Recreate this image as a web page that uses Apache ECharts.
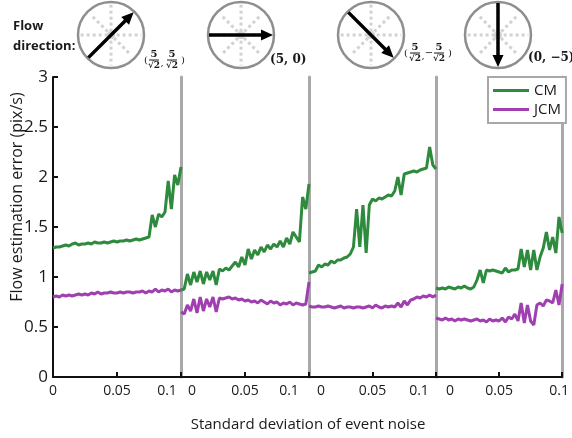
<!DOCTYPE html>
<html lang="en">
<head>
<meta charset="UTF-8">
<title>Flow estimation error</title>
<script src="https://cdn.jsdelivr.net/npm/echarts@6/dist/echarts.min.js"></script>
<style>
  html, body { margin: 0; padding: 0; background: #fff; }
  #main { width: 572px; height: 438px; }
</style>
</head>
<body>
<div id="main"></div>
<script>
// noise levels (x), same for every panel
var noise = [0, 0.0025, 0.005, 0.0075, 0.01, 0.0125, 0.015, 0.0175, 0.02, 0.0225,
  0.025, 0.0275, 0.03, 0.0325, 0.035, 0.0375, 0.04, 0.0425, 0.045, 0.0475,
  0.05, 0.0525, 0.055, 0.0575, 0.06, 0.0625, 0.065, 0.0675, 0.07, 0.0725,
  0.075, 0.0775, 0.08, 0.0825, 0.085, 0.0875, 0.09, 0.0925, 0.095, 0.0975, 0.1];

// flow vectors of the four panels
var flowDirs = [[5 / Math.SQRT2, 5 / Math.SQRT2], [5, 0], [5 / Math.SQRT2, -5 / Math.SQRT2], [0, -5]];

// CM error per panel
var cm1 = [1.29,1.30,1.30,1.31,1.32,1.31,1.33,1.34,1.32,1.33,1.33,1.34,1.33,1.35,1.34,1.34,1.35,1.34,1.35,1.36,
  1.35,1.36,1.36,1.37,1.36,1.37,1.38,1.37,1.38,1.39,1.40,1.62,1.50,1.63,1.60,1.65,1.96,1.68,2.02,1.92,2.10];
var cm2 = [0.87,0.88,1.03,0.92,1.05,0.95,1.06,0.93,1.05,0.97,1.06,0.92,1.08,1.06,1.09,1.07,1.11,1.15,1.10,1.20,
  1.12,1.28,1.18,1.27,1.22,1.30,1.25,1.32,1.28,1.33,1.30,1.36,1.30,1.39,1.33,1.45,1.40,1.35,1.80,1.68,1.93];
var cm3 = [1.04,1.05,1.06,1.12,1.10,1.13,1.12,1.16,1.14,1.17,1.17,1.19,1.20,1.23,1.30,1.68,1.30,1.72,1.24,1.72,
  1.78,1.76,1.79,1.78,1.80,1.82,1.81,1.86,2.00,1.82,2.03,2.04,2.05,2.06,2.05,2.07,2.08,2.09,2.30,2.12,2.08];
var cm4 = [0.89,0.88,0.89,0.88,0.90,0.89,0.88,0.90,0.89,0.91,0.89,0.88,0.90,0.97,1.07,0.94,1.07,1.06,1.07,1.06,
  1.05,1.04,1.09,1.05,1.07,1.07,1.08,1.28,1.10,1.27,1.07,1.27,1.07,1.20,1.29,1.45,1.27,1.40,1.24,1.60,1.44];

// JCM error per panel
var jcm1 = [0.80,0.81,0.80,0.82,0.81,0.82,0.81,0.82,0.83,0.82,0.83,0.82,0.84,0.83,0.85,0.83,0.84,0.84,0.85,0.84,
  0.84,0.85,0.84,0.85,0.85,0.84,0.85,0.85,0.86,0.84,0.86,0.85,0.88,0.85,0.87,0.86,0.88,0.85,0.87,0.86,0.87];
var jcm2 = [0.65,0.63,0.72,0.66,0.78,0.64,0.80,0.66,0.78,0.70,0.80,0.65,0.79,0.78,0.79,0.80,0.78,0.79,0.77,0.78,
  0.76,0.77,0.75,0.76,0.74,0.77,0.75,0.73,0.76,0.74,0.75,0.72,0.74,0.73,0.75,0.72,0.74,0.73,0.72,0.73,0.95];
var jcm3 = [0.71,0.70,0.70,0.71,0.70,0.70,0.71,0.70,0.69,0.70,0.71,0.69,0.70,0.70,0.69,0.70,0.70,0.69,0.70,0.71,
  0.69,0.72,0.70,0.69,0.71,0.70,0.71,0.70,0.74,0.70,0.76,0.72,0.77,0.78,0.80,0.79,0.81,0.80,0.82,0.80,0.82];
var jcm4 = [0.59,0.58,0.57,0.59,0.57,0.58,0.56,0.58,0.57,0.58,0.57,0.56,0.57,0.58,0.56,0.57,0.55,0.58,0.56,0.57,
  0.56,0.59,0.55,0.60,0.58,0.63,0.56,0.74,0.54,0.72,0.56,0.52,0.72,0.74,0.71,0.77,0.76,0.74,0.87,0.72,0.93];

var cmData = [cm1, cm2, cm3, cm4];
var jcmData = [jcm1, jcm2, jcm3, jcm4];

var yTicks = [0, 0.5, 1, 1.5, 2, 2.5, 3];

var FONT = '"Open Sans", "Noto Sans", sans-serif';
var TXT = '#1a1a1a';
var GRAY = '#a8a8a8';
var GREEN = '#2e8b3e';
var PURPLE = '#a040b0';

var panelLeft = [53, 181, 309, 436];
var panelWidth = [128, 128, 127, 127];
// label nudges (px) for the "0" and "0.1" tick labels of each panel
var labelShift = [[0, -14], [11, -20], [12, -17], [14, -3]];

function pad(s) {
  return s >= 0 ? [0, 0, 0, 2 * s] : [0, -2 * s, 0, 0];
}

function pairs(ys) {
  return ys.map(function (y, i) { return [noise[i], y]; });
}

var grids = [], xAxes = [], yAxes = [], series = [];
for (var p = 0; p < 4; p++) {
  grids.push({ left: panelLeft[p], top: 77, width: panelWidth[p], height: 300 });
  xAxes.push({
    type: 'value', gridIndex: p, min: 0, max: 0.1, interval: 0.05,
    axisLine: { lineStyle: { color: '#111', width: 2 } },
    axisTick: { inside: true, length: 5, lineStyle: { color: '#111', width: 2 } },
    splitLine: { show: false },
    axisLabel: {
      color: TXT, fontSize: 14, fontFamily: FONT, margin: 7,
      formatter: function (v) {
        if (v === 0) return '{a|0}';
        if (Math.abs(v - 0.1) < 1e-9) return '{b|0.1}';
        return String(v);
      },
      rich: {
        a: { fontSize: 14, fontFamily: FONT, color: TXT, padding: pad(labelShift[p][0]) },
        b: { fontSize: 14, fontFamily: FONT, color: TXT, padding: pad(labelShift[p][1]) }
      }
    }
  });
  if (p === 0) {
    yAxes.push({
      type: 'value', gridIndex: 0, min: 0, max: 3, interval: 0.5,
      axisLine: { show: true, lineStyle: { color: '#111', width: 2 } },
      axisTick: { show: true, inside: true, length: 5, lineStyle: { color: '#111', width: 2 } },
      splitLine: { show: false },
      axisLabel: {
        color: TXT, fontSize: 17, fontFamily: FONT, margin: 5,
        formatter: function (v) { return yTicks.indexOf(v) >= 0 ? String(v) : ''; }
      }
    });
  } else {
    yAxes.push({
      type: 'value', gridIndex: p, min: 0, max: 3, interval: 0.5,
      axisLine: { show: true, lineStyle: { color: GRAY, width: 3 } },
      axisTick: { show: false }, axisLabel: { show: false }, splitLine: { show: false }
    });
  }
  series.push({
    name: 'CM', type: 'line', xAxisIndex: p, yAxisIndex: p, data: pairs(cmData[p]),
    symbol: 'none', lineStyle: { color: GREEN, width: 3 }, itemStyle: { color: GREEN }, z: 3
  });
  series.push({
    name: 'JCM', type: 'line', xAxisIndex: p, yAxisIndex: p, data: pairs(jcmData[p]),
    symbol: 'none', lineStyle: { color: PURPLE, width: 3 }, itemStyle: { color: PURPLE }, z: 3
  });
}
// right border of the last panel
yAxes.push({
  type: 'value', gridIndex: 3, min: 0, max: 3, position: 'right',
  axisLine: { show: true, lineStyle: { color: GRAY, width: 3 } },
  axisTick: { show: false }, axisLabel: { show: false }, splitLine: { show: false }
});

// ---- flow direction icons ----
var iconX = [111, 241, 371, 498];
var iconY = 35, R = 33;
var graphics = [];

graphics.push({
  type: 'text', left: 13, top: 16,
  style: { text: 'Flow\ndirection:', fontSize: 13, fontWeight: 'bold', lineHeight: 20,
    fontFamily: FONT, fill: TXT }
});

for (var k = 0; k < 4; k++) {
  var cx = iconX[k];
  // dotted star
  for (var a = 0; a < 4; a++) {
    var ang = a * Math.PI / 4;
    var len = (a % 2 === 0) ? R * 0.92 : R * 0.78;
    var dx = Math.cos(ang) * len, dy = Math.sin(ang) * len;
    graphics.push({
      type: 'line', shape: { x1: cx - dx, y1: iconY - dy, x2: cx + dx, y2: iconY + dy },
      style: { stroke: '#d2d2d2', lineWidth: 3, lineDash: [3, 3] }
    });
  }
  graphics.push({ type: 'circle', shape: { cx: cx, cy: iconY, r: 4 }, style: { fill: '#d2d2d2' } });
  graphics.push({
    type: 'circle', shape: { cx: cx, cy: iconY, r: R },
    style: { fill: 'none', stroke: '#8e8e8e', lineWidth: 2.5 }
  });
  // arrow
  var v = flowDirs[k];
  var n = Math.sqrt(v[0] * v[0] + v[1] * v[1]);
  var ux = v[0] / n, uy = -v[1] / n;
  var tx = cx + ux * (R - 1), ty = iconY + uy * (R - 1);
  var sx = cx - ux * (R - 1), sy = iconY - uy * (R - 1);
  var hl = 12, hw = 5.5;
  var bx = tx - ux * hl, by = ty - uy * hl;
  graphics.push({
    type: 'line', shape: { x1: sx, y1: sy, x2: bx + ux * 2, y2: by + uy * 2 },
    style: { stroke: '#000', lineWidth: 3.5 }
  });
  graphics.push({
    type: 'polygon',
    shape: { points: [[tx, ty], [bx - uy * hw, by + ux * hw], [bx + uy * hw, by - ux * hw]] },
    style: { fill: '#000' }
  });
}

// vector labels
var SERIF = '"DejaVu Serif", "Liberation Serif", serif';
function frac(x, yBar, num) {
  return [
    { type: 'text', x: x, y: yBar - 1, style: { text: num, fontSize: 10, fontWeight: 'bold', fontFamily: SERIF,
      fill: TXT, align: 'center', verticalAlign: 'bottom' } },
    { type: 'line', shape: { x1: x - 5, y1: yBar, x2: x + 5, y2: yBar }, style: { stroke: TXT, lineWidth: 1 } },
    { type: 'text', x: x, y: yBar + 1, style: { text: '\u221a2', fontSize: 9, fontWeight: 'bold', fontFamily: SERIF,
      fill: TXT, align: 'center', verticalAlign: 'top' } }
  ];
}
function small(x, y, s, size) {
  return { type: 'text', x: x, y: y, style: { text: s, fontSize: size || 10, fontFamily: SERIF, fill: TXT,
    align: 'center', verticalAlign: 'middle' } };
}
// (5/√2, 5/√2)
graphics.push(small(146, 60, '('));
graphics = graphics.concat(frac(154, 60, '5'));
graphics.push(small(162, 63, ','));
graphics = graphics.concat(frac(172, 60, '5'));
graphics.push(small(183, 60, ')'));
// (5, 0)
graphics.push({ type: 'text', x: 270, y: 60, style: { text: '(5, 0)', fontSize: 12, fontWeight: 'bold',
  fontFamily: SERIF, fill: TXT, verticalAlign: 'middle' } });
// (5/√2, -5/√2)
graphics.push(small(406, 53, '('));
graphics = graphics.concat(frac(415, 53, '5'));
graphics.push(small(423, 56, ','));
graphics.push(small(429, 53, '\u2212'));
graphics = graphics.concat(frac(439, 53, '5'));
graphics.push(small(450, 53, ')'));
// (0, -5)
graphics.push({ type: 'text', x: 528, y: 58, style: { text: '(0, \u22125)', fontSize: 12, fontWeight: 'bold',
  fontFamily: SERIF, fill: TXT, verticalAlign: 'middle' } });

// axis titles
graphics.push({ type: 'text', x: 308, y: 425, style: { text: 'Standard deviation of event noise', fontSize: 15,
  fontFamily: FONT, fill: TXT, align: 'center', verticalAlign: 'middle' } });
graphics.push({ type: 'text', x: 17, y: 197, rotation: Math.PI / 2, style: { text: 'Flow estimation error (pix/s)',
  fontSize: 16, fontFamily: FONT, fill: TXT, align: 'center', verticalAlign: 'middle' } });

var chart = echarts.init(document.getElementById('main'), null, { renderer: 'canvas' });
chart.setOption({
  animation: false,
  backgroundColor: '#fff',
  grid: grids,
  xAxis: xAxes,
  yAxis: yAxes,
  legend: {
    data: ['CM', 'JCM'], orient: 'vertical', left: 488, top: 77,
    backgroundColor: '#fff', borderColor: GRAY, borderWidth: 2, borderRadius: 0,
    padding: [6, 5, 6, 5], itemGap: 4, itemWidth: 36, itemHeight: 3, icon: 'rect',
    textStyle: { fontSize: 15, color: TXT, fontFamily: FONT }
  },
  graphic: graphics,
  series: series
});
</script>
</body>
</html>
